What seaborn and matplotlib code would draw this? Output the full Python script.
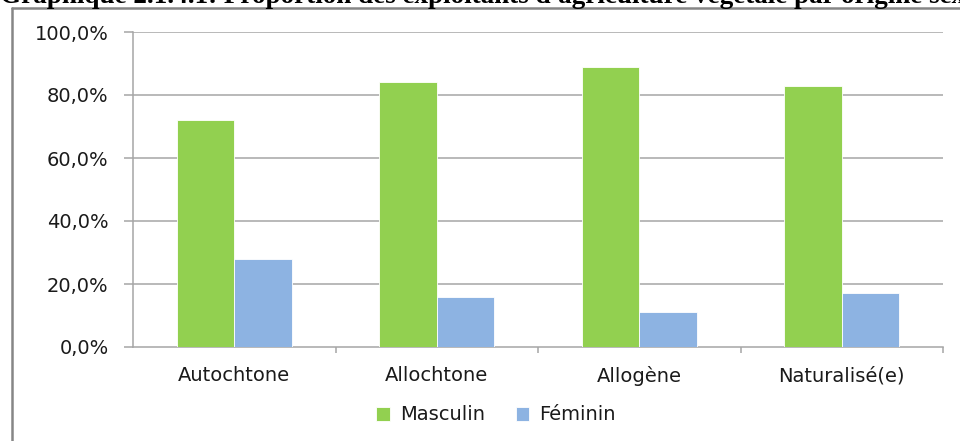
import matplotlib
matplotlib.use("Agg")
import matplotlib.pyplot as plt
from matplotlib.lines import Line2D
from matplotlib.ticker import FuncFormatter, FixedLocator
import seaborn as sns
import pandas as pd

categories = ["Autochtone", "Allochtone", "Allogène", "Naturalisé(e)"]
masculin = [72, 84, 89, 83]
feminin = [28, 16, 11, 17]
series_names = ["Masculin", "Féminin"]
yticks = [0, 20, 40, 60, 80, 100]

df = pd.DataFrame({
    "origine": categories * 2,
    "sexe": [series_names[0]] * len(categories) + [series_names[1]] * len(categories),
    "valeur": masculin + feminin,
})

sns.set_theme(style="white")
plt.rcParams["font.family"] = ["DejaVu Sans"]

fig = plt.figure(figsize=(9.6, 4.41), dpi=100)
ax = fig.add_axes([133 / 960, 1 - 347 / 441, (943 - 133) / 960, (347 - 32) / 441])

grid_c = "#a6a6a6"
txt_c = "#1a1a1a"
fs = 14
palette = {"Masculin": "#92D050", "Féminin": "#8DB3E2"}
sns.barplot(data=df, x="origine", y="valeur", hue="sexe", palette=palette,
            width=0.57, ax=ax, edgecolor="white", linewidth=0.6, legend=True,
            saturation=1, zorder=3)

ax.set_ylim(0, 100)
ax.set_xlim(-0.5, len(categories) - 0.5)
ax.set_yticks(yticks)
ax.yaxis.set_major_formatter(FuncFormatter(lambda v, p: f"{v:.1f}".replace(".", ",") + "%"))
for y in yticks[1:]:
    ax.axhline(y, color=grid_c, lw=1.1, zorder=1)

for s in ["top", "right"]:
    ax.spines[s].set_visible(False)
for s in ["left", "bottom"]:
    ax.spines[s].set_color(grid_c)
    ax.spines[s].set_linewidth(1.1)

ax.set_xlabel("")
ax.set_ylabel("")
ax.tick_params(axis="y", which="major", direction="out", length=6.5, width=1.1,
               color=grid_c, pad=11, labelsize=fs, labelcolor=txt_c, left=True)
ax.tick_params(axis="x", which="major", length=0, pad=14, labelsize=fs, labelcolor=txt_c)
ax.xaxis.set_minor_locator(FixedLocator([i + 0.5 for i in range(len(categories))]))
ax.tick_params(axis="x", which="minor", direction="out", length=4.5, width=1.1,
               color=grid_c, bottom=True)

handles, labels = ax.get_legend_handles_labels()
ax.legend_.remove()
leg = fig.legend(handles, labels, loc="center", bbox_to_anchor=(496 / 960, 1 - 415 / 441),
                 ncol=2, frameon=False, fontsize=fs, handlelength=0.7, handleheight=0.7,
                 handletextpad=0.5, columnspacing=1.6)
for t in leg.get_texts():
    t.set_color(txt_c)

# outer frame (partially cropped)
fig.add_artist(Line2D([12 / 960, 1.0], [1 - 8 / 441, 1 - 8 / 441], transform=fig.transFigure,
                      color="#868686", lw=1.8))
fig.add_artist(Line2D([12 / 960, 12 / 960], [0, 1 - 8 / 441], transform=fig.transFigure,
                      color="#868686", lw=1.8))

fig.text(0.0, 1 - 3 / 441,
         "Graphique 2.1.4.1: Proportion des exploitants d'agriculture végétale par origine sexe",
         ha="left", va="baseline", fontsize=19.5, fontweight="bold",
         family=["Liberation Serif", "DejaVu Serif"], color="black")

fig.savefig("out.png", dpi=100)
